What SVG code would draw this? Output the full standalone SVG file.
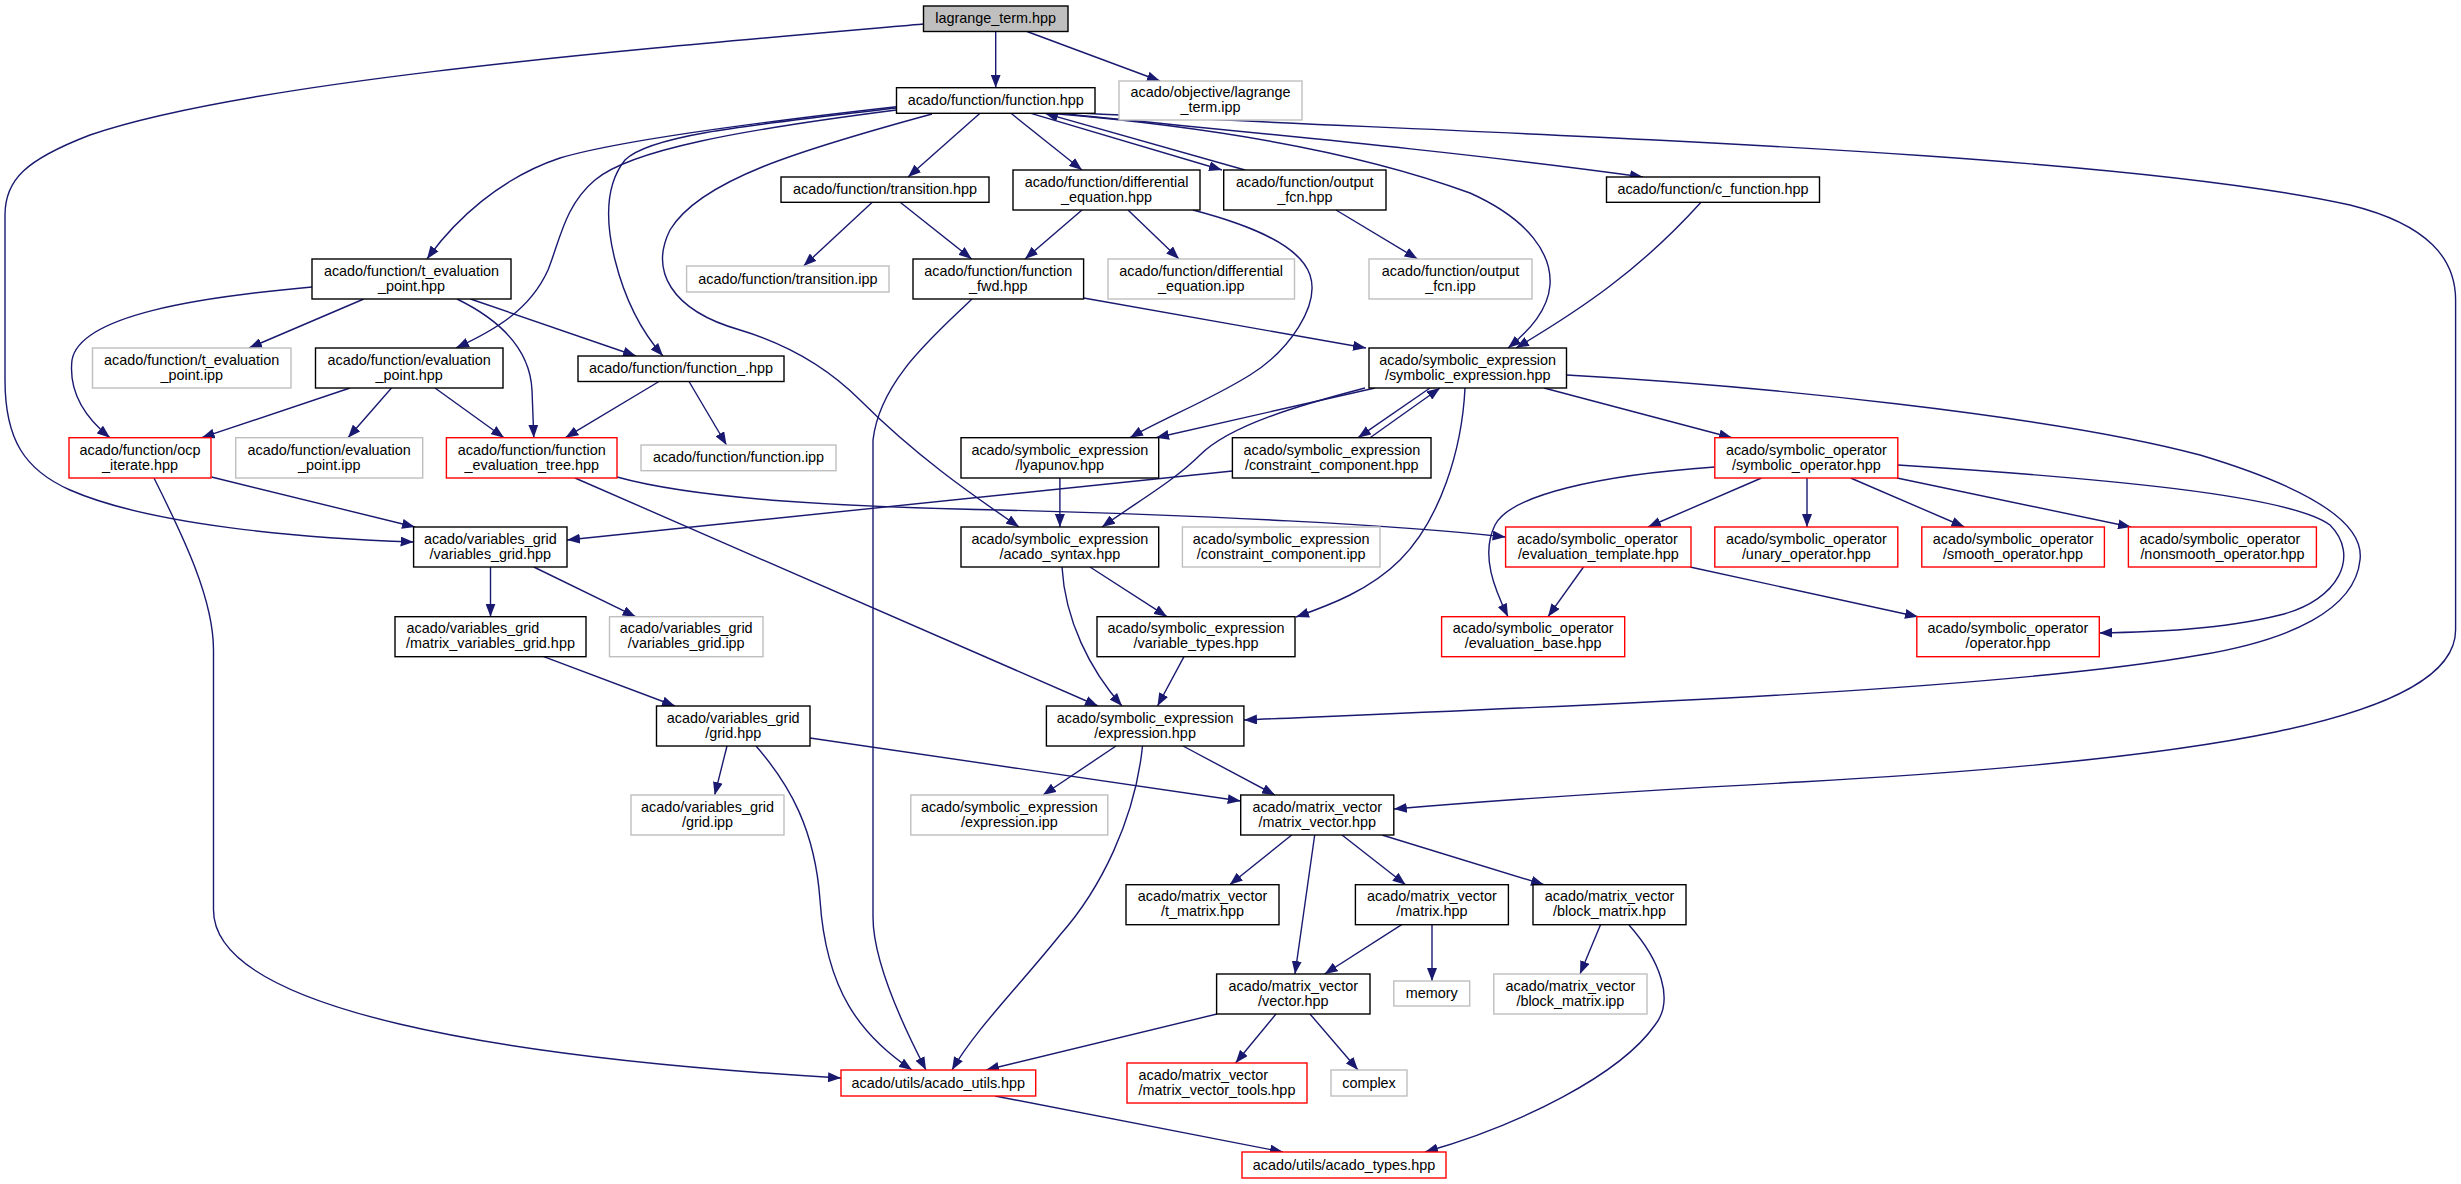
<svg xmlns="http://www.w3.org/2000/svg" width="2461" height="1184" viewBox="0 0 2461 1184">
<style>
rect{fill:#fff;stroke:#000;stroke-width:1.4}
.g rect{stroke:#bfbfbf}
.r rect{stroke:#ff0000}
.root rect{fill:#bfbfbf}
text{font-family:"Liberation Sans",Arial,sans-serif;font-size:14.4px;fill:#000;text-anchor:middle}
.l{text-anchor:start}
.e path{fill:none;stroke:#191970;stroke-width:1.4;marker-end:url(#a)}
</style>
<defs>
<marker id="a" markerUnits="userSpaceOnUse" viewBox="0 0 13 10" refX="13" refY="5" markerWidth="13" markerHeight="10" orient="auto"><path d="M0,0L13,5L0,10z" fill="#191970"/></marker>
</defs>
<rect x="0" y="0" width="2461" height="1184" style="fill:#fff;stroke:none"/>
<g class="e" id="edges">
<path d="M995.7,31.3L995.7,87.7"/>
<path d="M1027,31.5L1160,81"/>
<path d="M923.5,24C650,48 250,80 90,135C25,160 5,180 5,215L5,380C5,440 25,470 70,490C150,525 300,538 413.6,542"/>
<path d="M980,113.3L908,177"/>
<path d="M1011,113.3L1082,170"/>
<path d="M1031,113.3L1222,170"/>
<path d="M1245,170L1045,113.3"/>
<path d="M1060,113.3C1200,128 1450,150 1643,177"/>
<path d="M1050,113.3C1250,130 1380,160 1470,193C1530,220 1552,255 1550,285C1548,310 1530,330 1508,348"/>
<path d="M1701,202.3C1640,270 1580,310 1516,348"/>
<path d="M896.5,106.7C760,122 620,140 560,158C500,178 455,220 427,259"/>
<path d="M896.5,110C740,130 630,150 595,180C565,205 560,240 548,270C530,310 495,330 456,348"/>
<path d="M896.5,108C750,125 650,135 625,160C605,185 605,220 615,260C625,300 640,330 663,356"/>
<path d="M932,114C800,150 700,180 670,230C650,270 670,310 740,330C790,345 830,370 860,400C920,460 980,500 1019,527"/>
<path d="M1193,210C1250,225 1300,245 1310,275C1320,305 1290,350 1250,375C1210,400 1160,420 1130,437.7"/>
<path d="M872,202.5L803.6,266"/>
<path d="M900.5,202.5L971.7,259"/>
<path d="M1082,210L1025,259"/>
<path d="M1128,210L1179,259"/>
<path d="M1336,210L1417.5,259"/>
<path d="M1083.6,298L1366,348"/>
<path d="M972,299C935,335 880,380 873,440L873,917C873,960 900,1020 926,1070"/>
<path d="M363.8,299L249,348"/>
<path d="M312,287C200,297 80,315 72,360C68,395 88,420 110,437.7"/>
<path d="M470.5,299L636,356"/>
<path d="M457,299C500,320 530,350 532,390L533.8,437.7"/>
<path d="M350,388L201.7,437.7"/>
<path d="M391.5,388L348,437.7"/>
<path d="M435,388L504,437.7"/>
<path d="M659,381.5L565.4,437.7"/>
<path d="M689,381.5L726.5,445"/>
<path d="M211.5,477L415,527"/>
<path d="M154,478C185,540 213.5,600 213.5,650L213.5,910C213.5,1010 500,1058 841,1078"/>
<path d="M1232.4,471L567,540"/>
<path d="M575,478L1098,706"/>
<path d="M617,477C700,500 850,507 1000,510C1200,515 1400,525 1505.6,537"/>
<path d="M490.5,567L490.5,616.7"/>
<path d="M533.8,567L635.6,616.7"/>
<path d="M543.7,656.7L675,706"/>
<path d="M727,746L714.7,795"/>
<path d="M756,746C790,785 815,830 820,900C826,990 860,1035 912,1070"/>
<path d="M810,738L1240.7,801"/>
<path d="M1059.9,478L1059.9,527"/>
<path d="M1375,388L1156,437.7"/>
<path d="M1365,388C1300,405 1230,425 1200,455C1175,480 1140,500 1102,527"/>
<path d="M1430,388L1358,437.7"/>
<path d="M1370,437.7L1440,388"/>
<path d="M1465,388C1462,450 1440,520 1400,560C1370,590 1330,605 1296,617"/>
<path d="M1544,388L1732,437.7"/>
<path d="M1566.5,375C1750,385 2050,415 2200,455C2300,485 2365,520 2360,560C2355,610 2290,640 2200,655C2000,690 1600,705 1244,720"/>
<path d="M1761.5,478L1648,527"/>
<path d="M1807,478L1807,527"/>
<path d="M1850.6,478L1964.4,527"/>
<path d="M1897,478L2131,527"/>
<path d="M1714.8,467C1600,475 1510,495 1495,525C1480,555 1495,590 1508,616.7"/>
<path d="M1898,465C2100,478 2290,495 2330,525C2360,555 2340,600 2280,615C2220,630 2150,632 2099.3,633"/>
<path d="M1583.5,567L1548,616.7"/>
<path d="M1690,567L1918,616.7"/>
<path d="M1090,567L1167,616.7"/>
<path d="M1062,567C1065,620 1090,670 1122,706"/>
<path d="M1184,656.7L1157.5,706"/>
<path d="M1116,746L1043,795"/>
<path d="M1142.5,746C1135,820 1100,890 1060,935C1020,985 975,1030 952,1070"/>
<path d="M1183,746L1275,795"/>
<path d="M1085,113.3C1500,135 2100,150 2350,205C2430,225 2455.6,260 2455.6,300L2455.6,630C2455.6,720 2200,760 1800,782C1650,790 1500,800 1393.8,809"/>
<path d="M1291.7,835L1229.7,884.7"/>
<path d="M1314.7,835L1295,974"/>
<path d="M1342,835L1405.6,884.7"/>
<path d="M1382,835L1544,884.7"/>
<path d="M1401.7,924.7L1324.6,974"/>
<path d="M1432,924.7L1432,981"/>
<path d="M1600.5,924.7L1580,974"/>
<path d="M1629,925C1660,960 1675,1000 1655,1025C1620,1075 1520,1125 1425,1152"/>
<path d="M1217,1014L986,1070"/>
<path d="M1276,1014L1235.6,1063"/>
<path d="M1310,1014L1358,1070"/>
<path d="M995,1096L1283,1152"/>
</g>
<g id="n_L" class="root"><rect x="923.5" y="6" width="144.5" height="25.5"/><text x="995.7" y="23.2">lagrange_term.hpp</text></g>
<g id="n_F"><rect x="896.5" y="87.7" width="198.5" height="25.6"/><text x="995.7" y="105">acado/function/function.hpp</text></g>
<g id="n_LI" class="g"><rect x="1119" y="81" width="183" height="39"/><text x="1210.5" y="97">acado/objective/lagrange</text><text x="1210.5" y="112">_term.ipp</text></g>
<g id="n_T"><rect x="781" y="177" width="208" height="25.3"/><text x="885" y="194.1">acado/function/transition.hpp</text></g>
<g id="n_D"><rect x="1013" y="170" width="187" height="40"/><text x="1106.5" y="186.5">acado/function/differential</text><text x="1106.5" y="201.5">_equation.hpp</text></g>
<g id="n_O"><rect x="1223.7" y="170" width="162.3" height="40"/><text x="1304.8" y="186.5">acado/function/output</text><text x="1304.8" y="201.5">_fcn.hpp</text></g>
<g id="n_C"><rect x="1606.5" y="177" width="213" height="25.3"/><text x="1713" y="194.1">acado/function/c_function.hpp</text></g>
<g id="n_TI" class="g"><rect x="686.6" y="266" width="202.4" height="26"/><text x="787.8" y="283.5">acado/function/transition.ipp</text></g>
<g id="n_FF"><rect x="913" y="259" width="170.6" height="40"/><text x="998.3" y="275.5">acado/function/function</text><text x="998.3" y="290.5">_fwd.hpp</text></g>
<g id="n_DI" class="g"><rect x="1108" y="259" width="186.5" height="40"/><text x="1201.2" y="275.5">acado/function/differential</text><text x="1201.2" y="290.5">_equation.ipp</text></g>
<g id="n_OI" class="g"><rect x="1369" y="259" width="163" height="40"/><text x="1450.5" y="275.5">acado/function/output</text><text x="1450.5" y="290.5">_fcn.ipp</text></g>
<g id="n_TE"><rect x="312" y="259" width="199" height="40"/><text x="411.5" y="275.5">acado/function/t_evaluation</text><text x="411.5" y="290.5">_point.hpp</text></g>
<g id="n_TEI" class="g"><rect x="92.5" y="348" width="198.5" height="40"/><text x="191.7" y="364.5">acado/function/t_evaluation</text><text x="191.7" y="379.5">_point.ipp</text></g>
<g id="n_EP"><rect x="315.5" y="348" width="187.5" height="40"/><text x="409.2" y="364.5">acado/function/evaluation</text><text x="409.2" y="379.5">_point.hpp</text></g>
<g id="n_FU"><rect x="578" y="356" width="206" height="25.5"/><text x="681" y="373.2">acado/function/function_.hpp</text></g>
<g id="n_SE"><rect x="1369" y="348" width="197.5" height="40"/><text x="1467.7" y="364.5">acado/symbolic_expression</text><text x="1467.7" y="379.5">/symbolic_expression.hpp</text></g>
<g id="n_OC" class="r"><rect x="69" y="437.7" width="142" height="40.3"/><text x="140" y="454.5">acado/function/ocp</text><text x="140" y="469.5">_iterate.hpp</text></g>
<g id="n_EPI" class="g"><rect x="235.7" y="437.7" width="187" height="40.3"/><text x="329.2" y="454.5">acado/function/evaluation</text><text x="329.2" y="469.5">_point.ipp</text></g>
<g id="n_FET" class="r"><rect x="446.4" y="437.7" width="170.6" height="40.3"/><text x="531.7" y="454.5">acado/function/function</text><text x="531.7" y="469.5">_evaluation_tree.hpp</text></g>
<g id="n_FI" class="g"><rect x="641" y="445" width="195" height="25.7"/><text x="738.5" y="462.3">acado/function/function.ipp</text></g>
<g id="n_LY"><rect x="961" y="437.7" width="197.7" height="40.3"/><text x="1059.8" y="454.5">acado/symbolic_expression</text><text x="1059.8" y="469.5">/lyapunov.hpp</text></g>
<g id="n_CC"><rect x="1232.4" y="437.7" width="198.6" height="40.3"/><text class="l" x="1243.5" y="454.5">acado/symbolic_expression</text><text x="1331.7" y="469.5">/constraint_component.hpp</text></g>
<g id="n_SO" class="r"><rect x="1714.8" y="437.7" width="183" height="40.3"/><text x="1806.3" y="454.5">acado/symbolic_operator</text><text x="1806.3" y="469.5">/symbolic_operator.hpp</text></g>
<g id="n_VG"><rect x="413.6" y="527" width="153.4" height="40"/><text x="490.3" y="543.5">acado/variables_grid</text><text x="490.3" y="558.5">/variables_grid.hpp</text></g>
<g id="n_AS"><rect x="961" y="527" width="197.7" height="40"/><text x="1059.8" y="543.5">acado/symbolic_expression</text><text x="1059.8" y="558.5">/acado_syntax.hpp</text></g>
<g id="n_CCI" class="g"><rect x="1182.4" y="527" width="197.6" height="40"/><text x="1281.2" y="543.5">acado/symbolic_expression</text><text x="1281.2" y="558.5">/constraint_component.ipp</text></g>
<g id="n_ET" class="r"><rect x="1505.6" y="527" width="185.4" height="40"/><text class="l" x="1517" y="543.5">acado/symbolic_operator</text><text x="1598.3" y="558.5">/evaluation_template.hpp</text></g>
<g id="n_UO" class="r"><rect x="1714.8" y="527" width="183" height="40"/><text x="1806.3" y="543.5">acado/symbolic_operator</text><text x="1806.3" y="558.5">/unary_operator.hpp</text></g>
<g id="n_SM" class="r"><rect x="1921.8" y="527" width="182.6" height="40"/><text x="2013.1" y="543.5">acado/symbolic_operator</text><text x="2013.1" y="558.5">/smooth_operator.hpp</text></g>
<g id="n_NS" class="r"><rect x="2128.4" y="527" width="188" height="40"/><text class="l" x="2139.5" y="543.5">acado/symbolic_operator</text><text x="2222.4" y="558.5">/nonsmooth_operator.hpp</text></g>
<g id="n_MVG"><rect x="395" y="616.7" width="191" height="40"/><text class="l" x="406.5" y="633.2">acado/variables_grid</text><text x="490.5" y="648.2">/matrix_variables_grid.hpp</text></g>
<g id="n_VGI" class="g"><rect x="609.5" y="616.7" width="153.5" height="40"/><text x="686.2" y="633.2">acado/variables_grid</text><text x="686.2" y="648.2">/variables_grid.ipp</text></g>
<g id="n_VT"><rect x="1097" y="616.7" width="198" height="40"/><text x="1196" y="633.2">acado/symbolic_expression</text><text x="1196" y="648.2">/variable_types.hpp</text></g>
<g id="n_EB" class="r"><rect x="1441.6" y="616.7" width="183.1" height="40"/><text x="1533.1" y="633.2">acado/symbolic_operator</text><text x="1533.1" y="648.2">/evaluation_base.hpp</text></g>
<g id="n_OP" class="r"><rect x="1916.8" y="616.7" width="182.5" height="40"/><text x="2008" y="633.2">acado/symbolic_operator</text><text x="2008" y="648.2">/operator.hpp</text></g>
<g id="n_G"><rect x="656.5" y="706" width="153.5" height="40"/><text x="733.2" y="722.5">acado/variables_grid</text><text x="733.2" y="737.5">/grid.hpp</text></g>
<g id="n_EX"><rect x="1046.4" y="706" width="197.5" height="40"/><text x="1145.1" y="722.5">acado/symbolic_expression</text><text x="1145.1" y="737.5">/expression.hpp</text></g>
<g id="n_GI" class="g"><rect x="631" y="795" width="153" height="40"/><text x="707.5" y="811.5">acado/variables_grid</text><text x="707.5" y="826.5">/grid.ipp</text></g>
<g id="n_EXI" class="g"><rect x="910.8" y="795" width="197" height="40"/><text x="1009.3" y="811.5">acado/symbolic_expression</text><text x="1009.3" y="826.5">/expression.ipp</text></g>
<g id="n_MV"><rect x="1240.7" y="795" width="153.1" height="40"/><text x="1317.2" y="811.5">acado/matrix_vector</text><text x="1317.2" y="826.5">/matrix_vector.hpp</text></g>
<g id="n_TM"><rect x="1126" y="884.7" width="153" height="40"/><text x="1202.5" y="901.2">acado/matrix_vector</text><text x="1202.5" y="916.2">/t_matrix.hpp</text></g>
<g id="n_M"><rect x="1355.4" y="884.7" width="153" height="40"/><text x="1431.9" y="901.2">acado/matrix_vector</text><text x="1431.9" y="916.2">/matrix.hpp</text></g>
<g id="n_BM"><rect x="1533" y="884.7" width="153" height="40"/><text x="1609.5" y="901.2">acado/matrix_vector</text><text x="1609.5" y="916.2">/block_matrix.hpp</text></g>
<g id="n_V"><rect x="1216.6" y="974" width="153.4" height="40"/><text x="1293.3" y="990.5">acado/matrix_vector</text><text x="1293.3" y="1005.5">/vector.hpp</text></g>
<g id="n_ME" class="g"><rect x="1393.8" y="981" width="75.9" height="25"/><text x="1431.7" y="998">memory</text></g>
<g id="n_BMI" class="g"><rect x="1493.8" y="974" width="153.2" height="40"/><text x="1570.4" y="990.5">acado/matrix_vector</text><text x="1570.4" y="1005.5">/block_matrix.ipp</text></g>
<g id="n_AU" class="r"><rect x="841" y="1070" width="194.7" height="26"/><text x="938.3" y="1087.5">acado/utils/acado_utils.hpp</text></g>
<g id="n_MVT" class="r"><rect x="1127" y="1063" width="180" height="40"/><text class="l" x="1138.5" y="1079.5">acado/matrix_vector</text><text x="1217" y="1094.5">/matrix_vector_tools.hpp</text></g>
<g id="n_CX" class="g"><rect x="1331" y="1070" width="76" height="26"/><text x="1369" y="1087.5">complex</text></g>
<g id="n_AT" class="r"><rect x="1242" y="1152" width="204" height="26"/><text x="1344" y="1169.5">acado/utils/acado_types.hpp</text></g>
</svg>
